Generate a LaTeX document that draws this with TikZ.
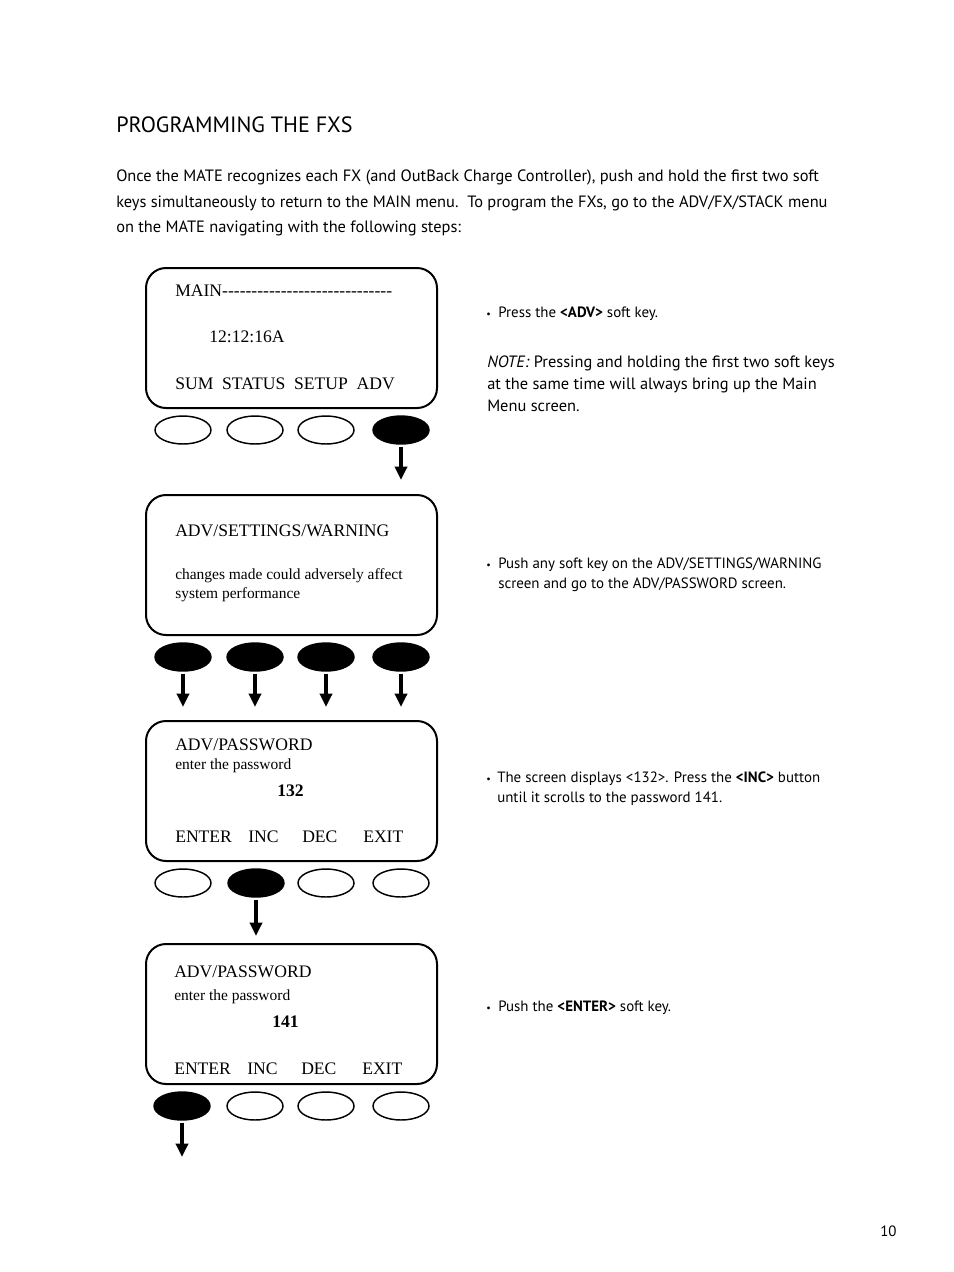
\documentclass[tikz,border=0pt]{standalone}
\usepackage{fontspec}
\setmainfont{Liberation Serif}
\newfontfamily\sansf{PT Sans}
\usetikzlibrary{shapes.geometric,arrows.meta}
\begin{document}
\begin{tikzpicture}[x=0.75pt,y=-0.75pt,
  screen/.style={draw, line width=1.5pt, rounded corners=15pt, minimum width=218.25pt, minimum height=105pt, inner sep=0pt},
  keyoff/.style={ellipse, draw, line width=1.1pt, minimum width=42pt, minimum height=21pt, inner sep=0pt},
  keyon/.style={keyoff, fill=black},
  arr/.style={line width=2.5pt, -{Triangle[width=9pt,length=10pt]}, shorten <=1.5pt},
  txt/.style={anchor=base west, inner sep=0pt},
  scr/.style={txt, font=\fontsize{13.2}{16}\selectfont},
  scrs/.style={txt, font=\fontsize{11.6}{13}\selectfont},
  head/.style={txt, font=\sansf\fontsize{16.6}{19}\selectfont},
  body/.style={txt, font=\sansf\fontsize{12.3}{14}\selectfont},
  note/.style={txt, font=\sansf\fontsize{12.3}{14}\selectfont},
  bul/.style={txt, font=\sansf\fontsize{11.2}{13}\selectfont},
  dot/.style={txt, font=\sansf\fontsize{7.5}{8}\selectfont}
]
\useasboundingbox (0,0) rectangle (954,1272);

% heading and intro
\node[head] (h) at (116,132) {PROGRAMMING THE FXS};
\node[body] (p1) at (116,181) {Once the MATE recognizes each FX (and OutBack Charge Controller), push and hold the first two soft};
\node[body] (p2) at (116,207) {keys simultaneously to return to the MAIN menu.\ \ To program the FXs, go to the ADV/FX/STACK menu};
\node[body] (p3) at (116,232) {on the MATE navigating with the following steps:};

% screens
\node[screen] (s1) at (291.5,338) {};
\node[screen] (s2) at (291.5,565) {};
\node[screen] (s3) at (291.5,791) {};
\node[screen] (s4) at (291.5,1014) {};

% screen 1 text
\node[scr] (t11) at (175,296) {MAIN-{}-{}-{}-{}-{}-{}-{}-{}-{}-{}-{}-{}-{}-{}-{}-{}-{}-{}-{}-{}-{}-{}-{}-{}-{}-{}-{}-{}-{}};
\node[scr] (t12) at (209,342) {12:12:16A};
\node[scr] (t13) at (175,389) {SUM\ \ STATUS\ \ SETUP\ \ ADV};
% screen 2 text
\node[scr] (t21) at (175,536) {ADV/SETTINGS/WARNING};
\node[scrs] (t22) at (175,579) {changes made could adversely affect};
\node[scrs] (t23) at (175,598) {system performance};
% screen 3 text
\node[scr] (t31) at (175,750) {ADV/PASSWORD};
\node[scrs] (t32) at (175,769) {enter the password};
\node[scr] (t33) at (277,796) {\bfseries 132};
\node[scr] (t34) at (175,842) {ENTER};
\node[scr] (t35) at (248,842) {INC};
\node[scr] (t36) at (302,842) {DEC};
\node[scr] (t37) at (363,842) {EXIT};
% screen 4 text
\node[scr] (t41) at (174,977) {ADV/PASSWORD};
\node[scrs] (t42) at (174,1000) {enter the password};
\node[scr] (t43) at (272,1027) {\bfseries 141};
\node[scr] (t44) at (174,1074) {ENTER};
\node[scr] (t45) at (247,1074) {INC};
\node[scr] (t46) at (301,1074) {DEC};
\node[scr] (t47) at (362,1074) {EXIT};

% keys
\node[keyoff] (k11) at (183,430) {};
\node[keyoff] (k12) at (255,430) {};
\node[keyoff] (k13) at (326,430) {};
\node[keyon]  (k14) at (401,430) {};
\node[keyon]  (k21) at (183,657) {};
\node[keyon]  (k22) at (255,657) {};
\node[keyon]  (k23) at (326,657) {};
\node[keyon]  (k24) at (401,657) {};
\node[keyoff] (k31) at (183,883) {};
\node[keyon]  (k32) at (256,883) {};
\node[keyoff] (k33) at (326,883) {};
\node[keyoff] (k34) at (401,883) {};
\node[keyon]  (k41) at (182,1106) {};
\node[keyoff] (k42) at (255,1106) {};
\node[keyoff] (k43) at (326,1106) {};
\node[keyoff] (k44) at (401,1106) {};

% arrow ends
\coordinate (e1) at (401,480);
\coordinate (e21) at (183,707);
\coordinate (e22) at (255,707);
\coordinate (e23) at (326,707);
\coordinate (e24) at (401,707);
\coordinate (e3) at (256,936);
\coordinate (e4) at (182,1157);
\draw[arr] (k14) -- (e1);
\draw[arr] (k21) -- (e21);
\draw[arr] (k22) -- (e22);
\draw[arr] (k23) -- (e23);
\draw[arr] (k24) -- (e24);
\draw[arr] (k32) -- (e3);
\draw[arr] (k41) -- (e4);

% right column
\node[dot] (d1) at (486,317) {•};
\node[bul] (r1) at (498,317) {Press the \textbf{<ADV>} soft key.};
\node[note] (n1) at (487,367) {\textit{NOTE:} Pressing and holding the first two soft keys};
\node[note] (n2) at (487,389) {at the same time will always bring up the Main};
\node[note] (n3) at (487,411) {Menu screen.};

\node[dot] (d2) at (486,568) {•};
\node[bul] (r21) at (498,568) {Push any soft key on the ADV/SETTINGS/WARNING};
\node[bul] (r22) at (498,588) {screen and go to the ADV/PASSWORD screen.};

\node[dot] (d3) at (486,782) {•};
\node[bul] (r31) at (497,782) {The screen displays <132>. Press the \textbf{<INC>} button};
\node[bul] (r32) at (497,802) {until it scrolls to the password 141.};

\node[dot] (d4) at (486,1011) {•};
\node[bul] (r4) at (498,1011) {Push the \textbf{<ENTER>} soft key.};

\node[bul] (pg) at (880,1236) {10};
\end{tikzpicture}
\end{document}
